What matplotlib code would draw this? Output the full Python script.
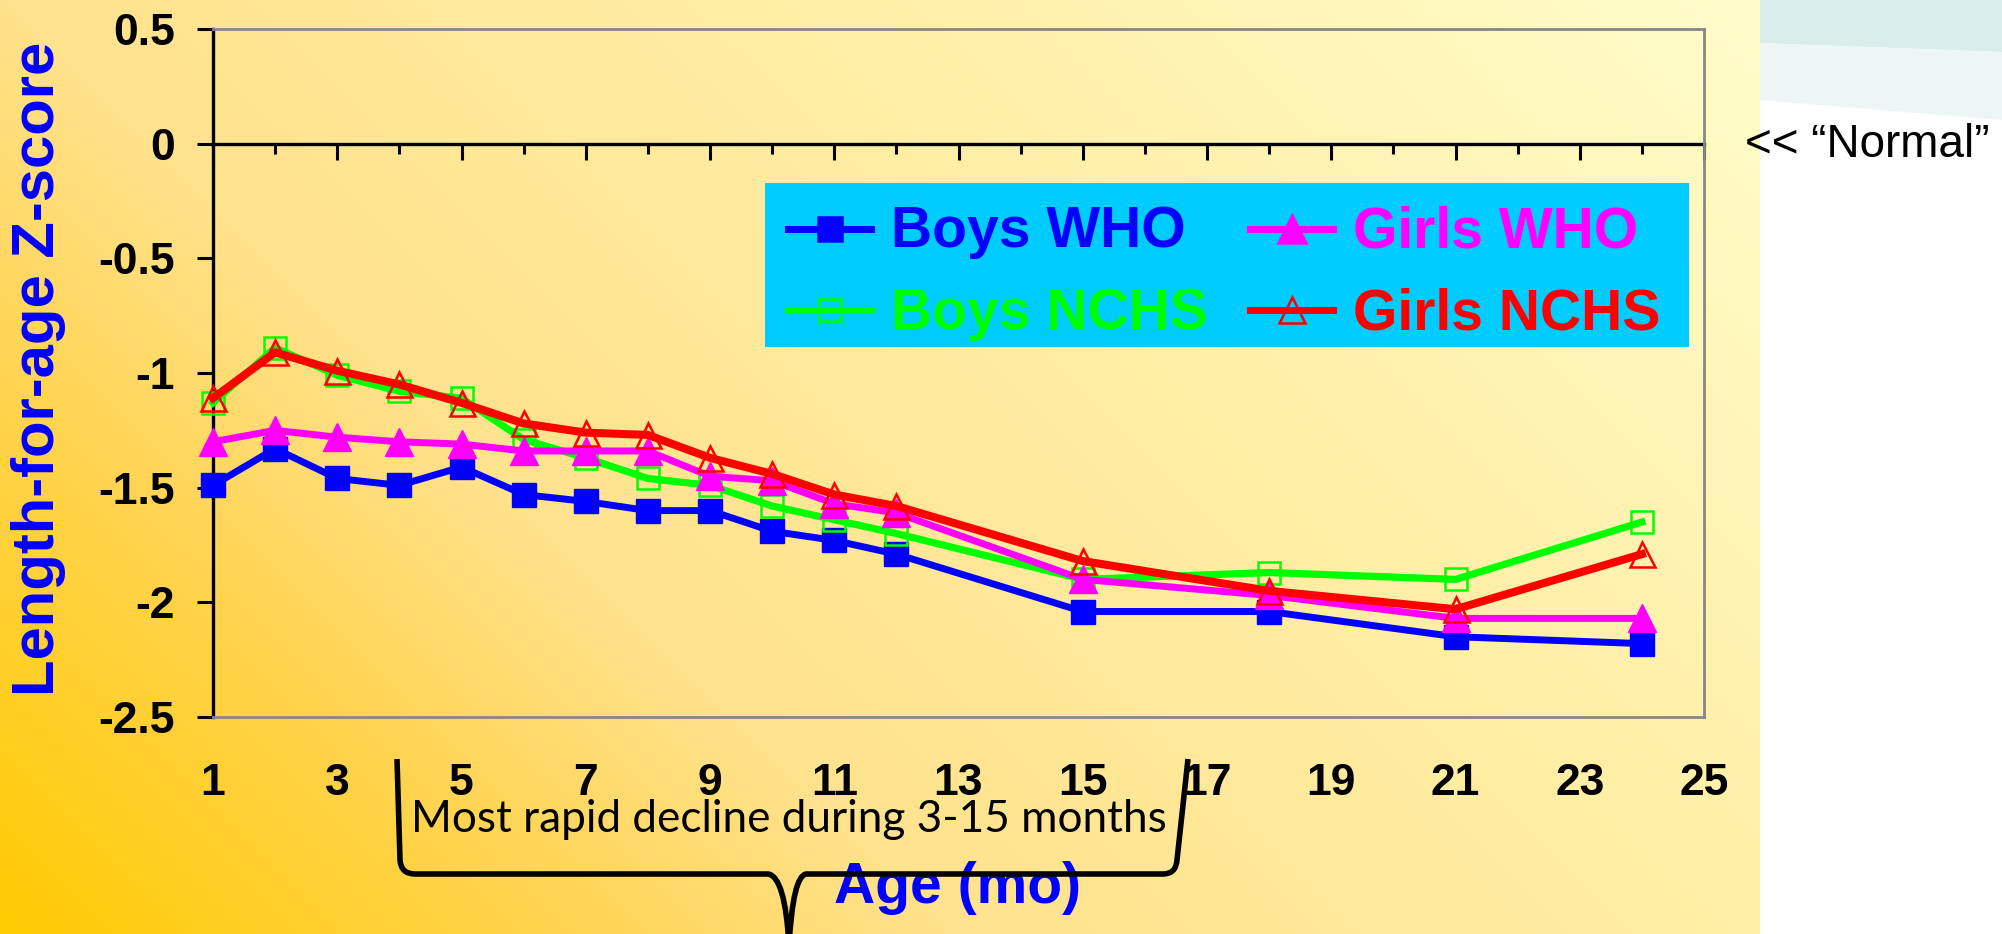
import numpy as np
import matplotlib
matplotlib.use("Agg")
import matplotlib.pyplot as plt
from matplotlib.transforms import Affine2D
from matplotlib.patches import Rectangle, Polygon, PathPatch
from matplotlib.path import Path
from matplotlib.lines import Line2D
from matplotlib.ticker import FixedLocator, NullFormatter

# ---------------- data ----------------
months = [1, 2, 3, 4, 5, 6, 7, 8, 9, 10, 11, 12, 15, 18, 21, 24]
boys_who = [-1.49, -1.33, -1.46, -1.49, -1.41, -1.53, -1.56, -1.60, -1.60, -1.69, -1.73, -1.79, -2.04, -2.04, -2.15, -2.18]
boys_nchs = [-1.13, -0.89, -1.01, -1.08, -1.11, -1.29, -1.37, -1.46, -1.49, -1.58, -1.64, -1.70, -1.90, -1.87, -1.90, -1.65]
girls_who = [-1.30, -1.25, -1.28, -1.30, -1.31, -1.34, -1.34, -1.34, -1.45, -1.47, -1.57, -1.61, -1.90, -1.97, -2.07, -2.07]
girls_nchs = [-1.11, -0.91, -0.99, -1.05, -1.13, -1.22, -1.26, -1.27, -1.37, -1.44, -1.53, -1.58, -1.82, -1.95, -2.03, -1.79]

x_ticks = [1, 3, 5, 7, 9, 11, 13, 15, 17, 19, 21, 23, 25]
x_minor = [2, 4, 6, 8, 10, 12, 14, 16, 18, 20, 22, 24]
y_ticks = [0.5, 0, -0.5, -1, -1.5, -2, -2.5]
y_labels = ["0.5", "0", "-0.5", "-1", "-1.5", "-2", "-2.5"]

series_names = ["Boys WHO", "Girls WHO", "Boys NCHS", "Girls NCHS"]

# ---------------- figure ----------------
W, H = 2002, 934
fig = plt.figure(figsize=(W / 100, H / 100), dpi=100, facecolor="white")
px = Affine2D().scale(1 / W, -1 / H).translate(0, 1) + fig.transFigure
FONT = "Liberation Sans"

# background gradient (left slide area)
GW = 1760
bg = fig.add_axes([0, 0, GW / W, 1])
bg.set_zorder(-5)
bg.axis("off")
xx, yy = np.meshgrid(np.arange(GW), np.arange(H))
t = 0.65 * (xx / GW) + 0.35 * (1 - yy / H)
stops_t = [0.0, 0.21, 0.35, 0.65, 1.0]
stops_c = np.array([[255, 202, 0], [255, 212, 80], [255, 226, 140],
                    [255, 239, 166], [255, 252, 202]]) / 255.0
img = np.zeros((H, GW, 3))
for c in range(3):
    img[..., c] = np.interp(t, stops_t, stops_c[:, c])
bg.imshow(img, aspect="auto", extent=[0, 1, 0, 1], origin="upper")
bg.set_xlim(0, 1)
bg.set_ylim(0, 1)

# right side decoration bands
fig.add_artist(Polygon([(GW, 0), (W, 0), (W, 52), (GW, 43)], closed=True,
                       transform=px, facecolor="#D9EDEB", edgecolor="none", zorder=-4))
fig.add_artist(Polygon([(GW, 43), (W, 52), (W, 120), (GW, 100)], closed=True,
                       transform=px, facecolor="#ECF6F5", edgecolor="none", zorder=-4))

# ---------------- main axes ----------------
L, R, T, B = 213, 1704, 29, 717
ax = fig.add_axes([L / W, 1 - B / H, (R - L) / W, (B - T) / H])
ax.set_facecolor("none")
ax.set_xlim(1, 25)
ax.set_ylim(-2.5, 0.5)

ax.plot(months, boys_who, color="#0000FF", lw=5.0, marker="s", ms=17,
        mfc="#0000FF", mec="#0000FF", clip_on=False, zorder=3)
ax.plot(months, boys_nchs, color="#00FF00", lw=5.2, marker="s", ms=16.5,
        mfc="none", mec="#00FF00", mew=1.8, clip_on=False, zorder=4)
ax.plot(months, girls_who, color="#FF00FF", lw=5.0, marker="^", ms=20,
        mfc="#FF00FF", mec="#FF00FF", clip_on=False, zorder=5)
ax.plot(months, girls_nchs, color="#FF0000", lw=5.8, marker="^", ms=18,
        mfc="none", mec="#FF0000", mew=1.8, clip_on=False, zorder=6)

for s in ["top", "right", "bottom"]:
    ax.spines[s].set_color("#878787")
    ax.spines[s].set_linewidth(2.0)
ax.spines["left"].set_color("black")
ax.spines["left"].set_linewidth(2.4)

ax.set_yticks(y_ticks)
ax.set_yticklabels(y_labels)
ax.tick_params(axis="y", direction="out", length=11.5, width=2.2, pad=16,
               labelsize=32, colors="black")
ax.set_xticks(x_ticks)
ax.set_xticklabels([str(v) for v in x_ticks])
ax.tick_params(axis="x", length=0, pad=33, labelsize=32)
for lab in ax.get_xticklabels() + ax.get_yticklabels():
    lab.set_fontfamily(FONT)
    lab.set_fontweight("bold")

# zero line with tick marks
sec = ax.secondary_xaxis(2.5 / 3)
sec.set_alignment("bottom")
sec.set_xticks(x_ticks)
sec.xaxis.set_major_formatter(NullFormatter())
sec.xaxis.set_minor_locator(FixedLocator(x_minor))
sec.tick_params(axis="x", which="major", direction="out", length=11.5, width=2.2, color="black")
sec.tick_params(axis="x", which="minor", direction="out", length=7.2, width=2.2, color="black")
sec.spines["bottom"].set_color("black")
sec.spines["bottom"].set_linewidth(2.4)

# axis titles
fig.text(39, 369, "Length-for-age Z-score", transform=px, rotation=90,
         ha="center", va="center", fontsize=43, fontweight="bold",
         color="#0000FF", family=FONT)
fig.text(958, 903, "Age (mo)", transform=px, ha="center", va="baseline",
         fontsize=41, fontweight="bold", color="#0000FF", family=FONT, zorder=5)

# "Normal" annotation
fig.text(1745, 157, "<< \u201cNormal\u201d", transform=px, ha="left", va="baseline",
         fontsize=33, color="black", family=FONT)

# ---------------- legend ----------------
fig.add_artist(Rectangle((765, 183), 924, 164, transform=px,
                         facecolor="#00CCFF", edgecolor="none", zorder=5))
leg_specs = [
    (series_names[0], "#0000FF", "s", "#0000FF", 17, 788, 891, 229, 247),
    (series_names[1], "#FF00FF", "^", "#FF00FF", 20, 1250, 1353, 229, 247),
    (series_names[2], "#00FF00", "s", "none", 16.5, 788, 891, 310, 329),
    (series_names[3], "#FF0000", "^", "none", 19, 1250, 1353, 310, 329),
]
for name, col, mk, mfc, ms, hx, tx, ly, by in leg_specs:
    fig.add_artist(Line2D([hx, hx + 41.5, hx + 83], [ly, ly, ly], transform=px,
                          color=col, lw=5.0, marker=mk, ms=ms, mfc=mfc, mec=col,
                          mew=1.8, markevery=[1], zorder=6))
    fig.text(tx, by, name, transform=px, ha="left", va="baseline",
             fontsize=41, fontweight="bold", color=col, family=FONT, zorder=6)

# ---------------- brace annotation ----------------
verts = [(397, 759), (400, 860), (401, 874), (415, 874), (768, 874),
         (785, 876), (789, 945)]
codes = [Path.MOVETO, Path.LINETO, Path.CURVE3, Path.CURVE3, Path.LINETO,
         Path.CURVE3, Path.CURVE3]
verts2 = [(789, 945), (793, 876), (806, 874), (1163, 874), (1176, 874),
          (1177, 860), (1188, 759)]
codes2 = [Path.MOVETO, Path.CURVE3, Path.CURVE3, Path.LINETO, Path.CURVE3,
          Path.CURVE3, Path.LINETO]
brace = Path(verts + verts2, codes + codes2)
fig.add_artist(PathPatch(brace, transform=px, facecolor="none", edgecolor="black",
                         lw=4.0, capstyle="butt", joinstyle="round", zorder=7))

note = fig.text(411, 832, "Most rapid decline during 3-15 months", transform=px,
                ha="left", va="baseline", fontsize=27, color="black",
                family="Lato", zorder=7)
renderer = fig.canvas.get_renderer()
w = note.get_window_extent(renderer).width
note.set_fontsize(27 * 757 / w)

fig.savefig("out.png", dpi=100, facecolor=fig.get_facecolor())
